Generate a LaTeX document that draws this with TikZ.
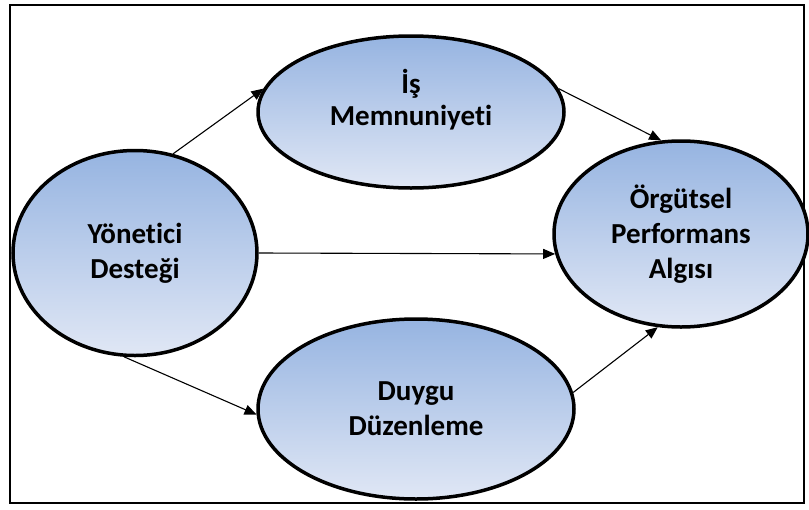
\documentclass[tikz,border=0pt]{standalone}
\usepackage{fontspec}
\setmainfont[Ligatures=NoCommon]{Carlito}
\usetikzlibrary{shapes.geometric,arrows.meta}

\definecolor{elltop}{RGB}{150,180,225}
\definecolor{ellbot}{RGB}{224,231,245}

\begin{document}
\begin{tikzpicture}[x=1pt,y=-1pt,>={Triangle[length=12pt,width=10pt]},
    oval/.style={ellipse,draw=black,line width=3.5pt,inner sep=0pt,
      top color=elltop,bottom color=ellbot,align=center,
      font=\fontsize{29}{35}\selectfont\bfseries},
    txt/.style={align=center,font=\fontsize{29}{32}\selectfont\bfseries},
    link/.style={->,line width=1.1pt}]
  \useasboundingbox (0,0) rectangle (809,509);
  % outer frame
  \draw[line width=1.3pt] (10,5) rectangle (804,503);

  % variables
  \node[oval,minimum width=244pt,minimum height=205pt] (yon) at (135,253) {Yönetici\\Desteği};
  \node[oval,minimum width=306pt,minimum height=152pt,
        label={[txt,yshift=12pt]center:İş\\Memnuniyeti}] (is) at (411,112) {};
  \node[oval,minimum width=254pt,minimum height=186pt] (org) at (681,234) {Örgütsel\\Performans\\Algısı};
  \node[oval,minimum width=316pt,minimum height=180pt] (duy) at (416,409) {Duygu\\Düzenleme};

  % paths
  \draw[link] (yon.69) -- (is.171);
  \draw[link] (yon.0) -- (org.189);
  \draw[link] (yon.264) -- (duy.182);
  \draw[link] (is.9) -- (org.102);
  \draw[link] (duy.6) -- (org.256);
\end{tikzpicture}
\end{document}
